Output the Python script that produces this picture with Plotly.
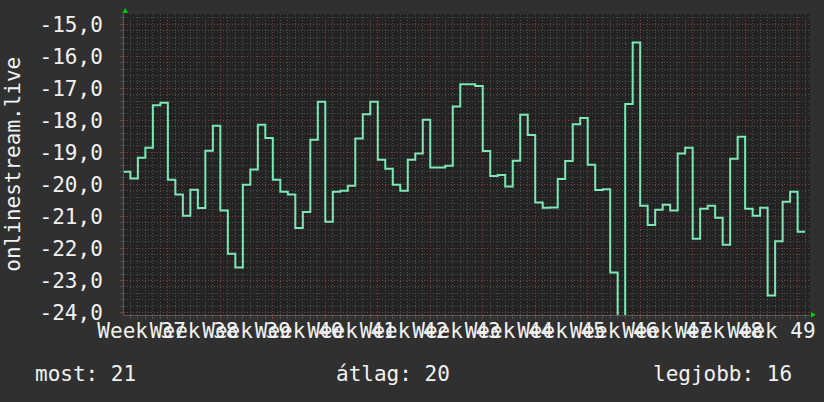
import plotly.graph_objects as go

# Day index relative to Monday of Week 38 (one value per day)
days = list(range(-6, 85))
rank = [
    -19.61, -19.82, -19.17, -18.86, -17.53, -17.45,
    -19.86, -20.32, -20.98, -20.17, -20.74, -18.95, -18.17,
    -20.82, -22.17, -22.60, -20.01, -19.54, -18.14, -18.55,
    -19.86, -20.23, -20.32, -21.36, -20.86, -18.61, -17.42,
    -21.17, -20.23, -20.20, -20.04, -18.57, -17.81, -17.42,
    -19.23, -19.51, -20.01, -20.20, -19.23, -19.04, -17.98,
    -19.47, -19.47, -19.42, -17.57, -16.87, -16.87, -16.93,
    -18.96, -19.74, -19.71, -20.07, -19.26, -17.83, -18.46,
    -20.57, -20.73, -20.72, -19.83, -19.27, -18.12, -17.93,
    -19.39, -20.18, -20.15, -22.75, -25.00, -17.49, -15.57,
    -20.67, -21.27, -20.79, -20.64, -20.82, -19.04, -18.86,
    -21.70, -20.76, -20.67, -21.04, -21.89, -19.20, -18.51,
    -20.76, -20.98, -20.73, -23.47, -21.78, -20.54, -20.23,
    -21.48,
]
week_numbers = list(range(37, 50))
week_labels = [f"Week {w}" for w in week_numbers]
y_ticks = list(range(-24, -14))
y_tick_labels = [f"{v},0" for v in y_ticks]
y_title = "onlinestream.live"

FONT = "DejaVu Sans Mono"
FS = 21
TXT = "#f2f2f2"
LINE = "#7de8b6"
GRID_MINOR = "#505050"
GRID_MAJOR = "#8c3a3a"
DASH = "1px,2px"

x_step = days + [days[-1] + 1]
y_step = rank + [rank[-1]]

week_centers = [(w - 38) * 7 + 3.5 for w in week_numbers]
week_starts = [(w - 38) * 7 for w in range(38, 51)]

x_range = [-5.85, 85.65]
y_range = [-24.08, -14.68]

most = round(-rank[-1])
atlag = round(-sum(rank) / len(rank))
legjobb = round(-max(rank))

fig = go.Figure()
fig.add_trace(go.Scatter(
    x=x_step, y=y_step, mode="lines",
    line=dict(shape="hv", color=LINE, width=2),
    hoverinfo="skip",
))
# same series on the label axis (invisible) so that axis gets drawn
fig.add_trace(go.Scatter(
    x=x_step, y=y_step, mode="lines", xaxis="x2",
    line=dict(shape="hv", color=LINE, width=0), opacity=0,
    hoverinfo="skip",
))

fig.update_layout(
    width=824, height=402,
    margin=dict(l=124, r=14, t=14, b=87),
    paper_bgcolor="#303030",
    plot_bgcolor="#232323",
    showlegend=False,
    font=dict(family=FONT, size=FS, color=TXT),
    xaxis=dict(
        range=x_range, tickmode="array", tickvals=week_starts,
        showticklabels=False, showgrid=True, gridcolor=GRID_MAJOR,
        griddash=DASH, gridwidth=1, zeroline=False, automargin=False,
        ticks="outside", ticklen=3, tickcolor=GRID_MAJOR,
        showline=True, linecolor="#5a5a5a", linewidth=1,
        minor=dict(dtick=1, tick0=0, showgrid=True, gridcolor=GRID_MINOR,
                   griddash=DASH, ticks="outside", ticklen=3,
                   tickcolor=GRID_MINOR),
    ),
    xaxis2=dict(
        overlaying="x", anchor="y", side="bottom", range=x_range,
        tickmode="array", tickvals=week_centers, ticktext=week_labels,
        tickangle=0, showgrid=False, zeroline=False, ticks="",
        automargin=False,
        tickfont=dict(family=FONT, size=FS, color=TXT),
        ticklabelstandoff=1,
    ),
    yaxis=dict(
        range=y_range, tickmode="array", tickvals=y_ticks,
        ticktext=y_tick_labels, showgrid=True, gridcolor=GRID_MAJOR,
        griddash=DASH, gridwidth=1, zeroline=False, automargin=False,
        ticks="outside", ticklen=3, tickcolor=GRID_MAJOR,
        showline=True, linecolor="#5a5a5a", linewidth=1,
        tickfont=dict(family=FONT, size=FS, color=TXT),
        ticklabelstandoff=13,
        minor=dict(dtick=0.2, tick0=0, showgrid=True, gridcolor=GRID_MINOR,
                   griddash=DASH, ticks="outside", ticklen=3,
                   tickcolor=GRID_MINOR),
    ),
)

# y-axis title
fig.add_annotation(
    text=y_title, textangle=-90, xref="paper", yref="paper",
    x=-0.163, y=0.5, xanchor="center", yanchor="middle",
    showarrow=False, font=dict(family=FONT, size=FS, color=TXT),
)

# legend line
for label, xp in [(f"most: {most}", -0.1327),
                  (f"átlag: {atlag}", 0.3066),
                  (f"legjobb: {legjobb}", 0.7678)]:
    fig.add_annotation(
        text=label, xref="paper", yref="paper", x=xp, y=-0.1944,
        xanchor="left", yanchor="middle", showarrow=False,
        font=dict(family=FONT, size=FS, color=TXT),
    )

# green axis arrows
fig.add_shape(type="path", xref="paper", yref="paper",
              path="M -0.0022,1.0033 L 0.0058,1.0033 L 0.0017,1.0199 Z",
              fillcolor="#00d000", line=dict(width=0))
fig.add_shape(type="path", xref="paper", yref="paper",
              path="M 1.0015,0.010 L 1.0015,-0.0083 L 1.0083,0.001 Z",
              fillcolor="#00d000", line=dict(width=0))

fig.write_html(
    "out.html",
    config={"displayModeBar": False},
    post_script="document.body.style.margin='0';document.body.style.overflow='hidden';",
)
